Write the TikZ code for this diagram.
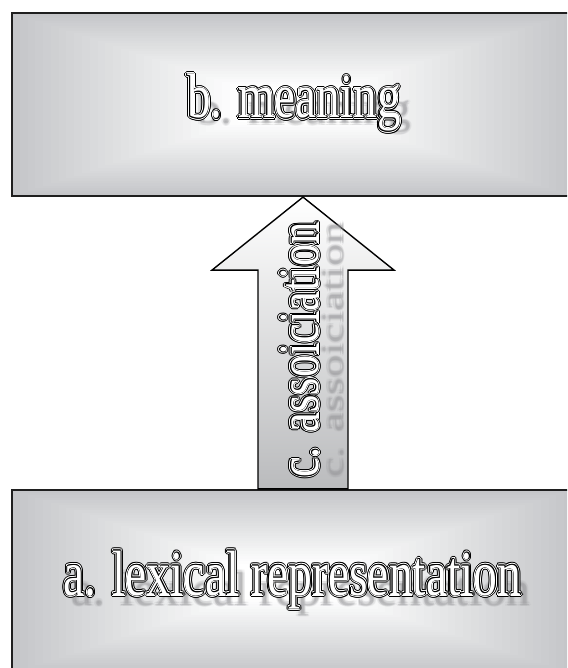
\documentclass[tikz,border=0pt]{standalone}
\usepackage{fontspec}
\newfontfamily\lblfont{Liberation Serif}
\usetikzlibrary{calc}
\definecolor{boxgray}{RGB}{197,198,201}
\definecolor{arrowgray}{RGB}{186,187,189}
\definecolor{shadowgray}{RGB}{150,150,153}
\newcommand{\gradfill}[4]{%
  \foreach \kk in {0,...,35}{%
    \pgfmathsetmacro\tf{\kk/36}%
    \pgfmathsetmacro\pp{min(100,100*\tf/0.8)}%
    \pgfmathsetmacro\xa{#1-#3*(1-\tf)}%
    \pgfmathsetmacro\xb{#1+#3*(1-\tf)}%
    \pgfmathsetmacro\ya{#2-#4*(1-\tf)}%
    \pgfmathsetmacro\yb{#2+#4*(1-\tf)}%
    \fill[white!\pp!boxgray] (\xa,\ya) rectangle (\xb,\yb);
  }%
}
\newcommand{\outlabel}[4]{%
  \foreach \ang in {0,22.5,...,337.5}
    \node[lbl,#3,text=black] at ($(#2)+(\ang:2.3)$) {#4};
  \foreach \ang in {0,30,...,330}
    \node[lbl,#3,text=white] at ($(#2)+(\ang:1.3)$) {#4};
  \foreach \ang in {0,45,...,315}
    \node[lbl,#3,text=black] at ($(#2)+(\ang:0.6)$) {#4};
  \node[lbl,#3,text=white] (#1) at (#2) {#4};
}
\newcommand{\blurlabel}[4]{%
  \foreach \ang in {0,45,...,315}
    \node[lbl,#3,text=shadowgray,opacity=0.1] at ($(#2)+(\ang:1.8)$) {#4};
  \node[lbl,#3,text=shadowgray,opacity=0.3] (#1) at (#2) {#4};
}
\tikzset{
  lbl/.style={anchor=base, inner sep=0pt, outer sep=0pt},
  boxborder/.style={draw=black!88, line width=2.2pt, inner sep=0pt, minimum width=560pt, minimum height=183pt},
  arrowbody/.style={draw=black, line width=1.4pt, line join=miter, top color=white, bottom color=arrowgray},
  bigfont/.style={font=\lblfont\fontsize{64}{70}\selectfont},
  midfont/.style={font=\lblfont\fontsize{63}{70}\selectfont},
  arrfont/.style={font=\lblfont\fontsize{57}{60}\selectfont}
}
\begin{document}
\begin{tikzpicture}[x=1pt,y=-1pt]
\useasboundingbox (0,0) rectangle (567,668);
\clip (0,0) rectangle (567,668);
\fill[white] (0,0) rectangle (567,668);
% boxes
\gradfill{292}{104.5}{280}{91.5}
\gradfill{292}{581.5}{280}{91.5}
\node[boxborder] (top) at (292,104.5) {};
\node[boxborder] (bot) at (292,581.5) {};
% block arrow from bottom box to top box
\coordinate (tip) at ($(top.south)+(11,0)$);
\coordinate (base) at ($(bot.north)+(11,0)$);
\draw[arrowbody] ($(base)+(-45,0)$) -- ($(tip)+(-45,73)$) -- ($(tip)+(-91,73)$)
  -- (tip) -- ($(tip)+(91,73)$) -- ($(tip)+(45,73)$) -- ($(base)+(45,0)$) -- cycle;
% shadows
\blurlabel{bsh}{304,124}{midfont}{\scalebox{0.75}[0.7]{b. meaning}}
\blurlabel{ash}{301,605}{bigfont}{\scalebox{0.745}[0.75]{a. lexical representation}}
\blurlabel{csh}{343,350}{arrfont, rotate=90}{\scalebox{0.78}[0.55]{c. assoiciation}}
% labels
\outlabel{blbl}{294,118}{midfont}{\scalebox{0.75}[1]{b. meaning}}
\outlabel{albl}{292.5,595}{bigfont}{\scalebox{0.745}[1]{a. lexical representation}}
\outlabel{clbl}{318,350}{arrfont, rotate=90}{\scalebox{0.78}[1]{c. assoiciation}}
\end{tikzpicture}
\end{document}
